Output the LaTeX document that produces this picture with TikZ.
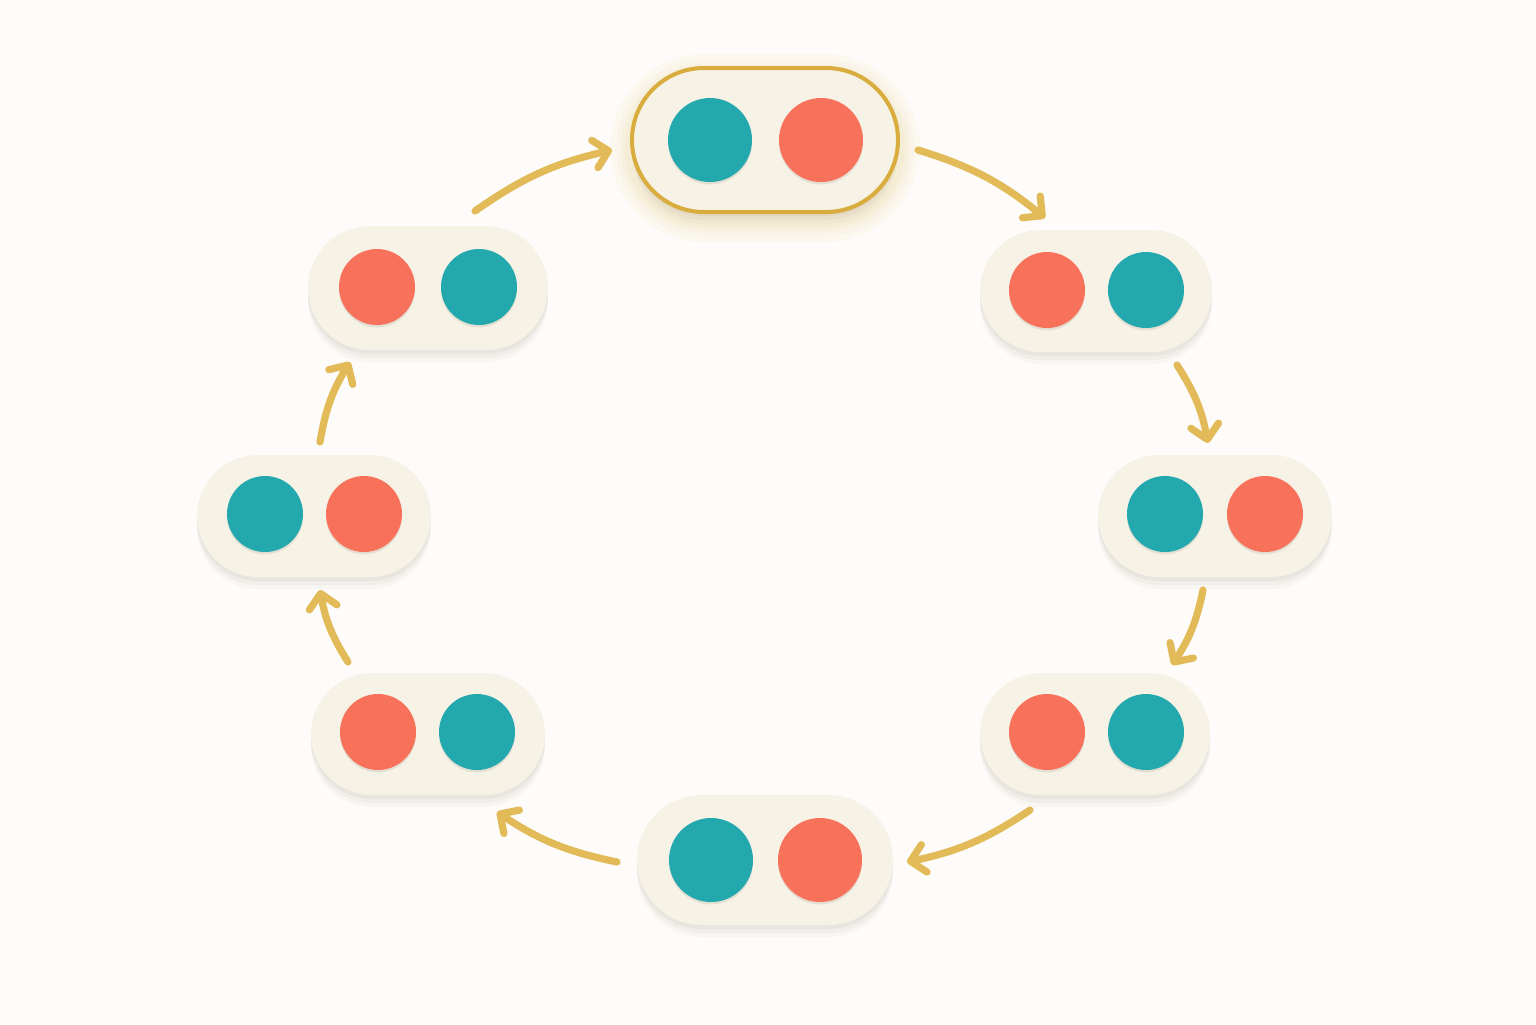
\documentclass[tikz,border=0pt]{standalone}
\usetikzlibrary{shapes.misc,arrows.meta}
\definecolor{bg}{HTML}{FDFCFA}
\definecolor{pill}{HTML}{F7F2E6}
\definecolor{gold}{HTML}{E2BA58}
\definecolor{goldb}{HTML}{D9AC3E}
\definecolor{tealc}{HTML}{22A8AD}
\definecolor{coralc}{HTML}{F8715A}
\definecolor{shade}{HTML}{8A7A5A}
\begin{document}
\begin{tikzpicture}[x=0.5pt,y=-0.5pt,
  pillbox/.style={rounded rectangle, fill=pill, draw=none, inner sep=0pt,
    preaction={fill=shade, opacity=0.04, transform canvas={yshift=-6pt}},
    preaction={fill=shade, opacity=0.06, transform canvas={yshift=-4pt}},
    preaction={fill=shade, opacity=0.08, transform canvas={yshift=-2pt}}},
  dot/.style={circle, inner sep=0pt, minimum size=#1, draw=none,
    preaction={fill=black, opacity=0.08, transform canvas={yshift=-1.2pt}}},
  tealdot/.style={dot=#1, fill=tealc},
  coraldot/.style={dot=#1, fill=coralc},
  flow/.style={draw=gold, line width=3.6pt, line cap=round,
    -{Straight Barb[length=7pt,width=14pt,line cap=round,line join=round]}}]
\fill[bg] (0,0) rectangle (1536,1024);
% glow of the highlighted state
\foreach \w/\h in {310/188,298/176,288/166,280/158}
  \fill[gold, opacity=0.06, rounded corners=\h/4 pt] (765-\w/2,148-\h/2) rectangle (765+\w/2,148+\h/2);
% states
\node[pillbox, minimum width=133pt, minimum height=72pt, draw=goldb, line width=2pt] (n1) at (765,140) {};
\node[tealdot=42pt] (n1a) at (710,140) {};
\node[coraldot=42pt] (n1b) at (821,140) {};

\node[pillbox, minimum width=116pt, minimum height=61pt] (n2) at (1096,291) {};
\node[coraldot=38pt] (n2a) at (1047,290) {};
\node[tealdot=38pt] (n2b) at (1146,290) {};

\node[pillbox, minimum width=117pt, minimum height=61pt] (n3) at (1215,516) {};
\node[tealdot=38pt] (n3a) at (1165,514) {};
\node[coraldot=38pt] (n3b) at (1265,514) {};

\node[pillbox, minimum width=115pt, minimum height=61pt] (n4) at (1095,734) {};
\node[coraldot=38pt] (n4a) at (1047,732) {};
\node[tealdot=38pt] (n4b) at (1146,732) {};

\node[pillbox, minimum width=128pt, minimum height=65pt] (n5) at (765,860) {};
\node[tealdot=42pt] (n5a) at (711,860) {};
\node[coraldot=42pt] (n5b) at (820,860) {};

\node[pillbox, minimum width=117pt, minimum height=61pt] (n6) at (428,734) {};
\node[coraldot=38pt] (n6a) at (378,732) {};
\node[tealdot=38pt] (n6b) at (477,732) {};

\node[pillbox, minimum width=117pt, minimum height=61pt] (n7) at (314,516) {};
\node[tealdot=38pt] (n7a) at (265,514) {};
\node[coraldot=38pt] (n7b) at (364,514) {};

\node[pillbox, minimum width=120pt, minimum height=62pt] (n8) at (428,288) {};
\node[coraldot=38pt] (n8a) at (377,287) {};
\node[tealdot=38pt] (n8b) at (479,287) {};

% arrow ends
\coordinate (s1) at (475,211); \coordinate (e1) at (612,150);
\coordinate (s2) at (918,150); \coordinate (e2) at (1045,218);
\coordinate (s3) at (1177,365); \coordinate (e3) at (1208,443);
\coordinate (s4) at (1203,590); \coordinate (e4) at (1172,665);
\coordinate (s5) at (1030,810); \coordinate (e5) at (907,862);
\coordinate (s6) at (617,862); \coordinate (e6) at (497,812);
\coordinate (s7) at (348,662); \coordinate (e7) at (320,590);
\coordinate (s8) at (320,442); \coordinate (e8) at (350,362);
\foreach \i in {1,...,8}
  \draw[flow] (s\i) to[bend left=11] (e\i);
\end{tikzpicture}
\end{document}
